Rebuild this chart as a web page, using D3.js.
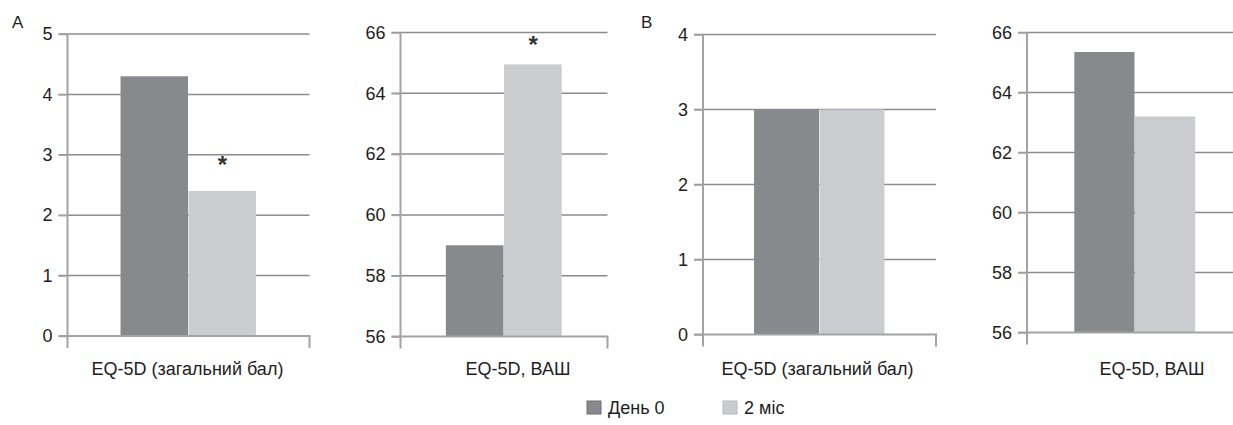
<!DOCTYPE html>
<html>
<head>
<meta charset="utf-8">
<script src="https://cdn.jsdelivr.net/npm/d3@7/dist/d3.min.js"></script>
<style>
  html, body { margin: 0; padding: 0; background: #fff; }
  svg { display: block; font-family: "Liberation Sans", Arial, sans-serif; }
</style>
</head>
<body>
<svg id="chart" width="1233" height="425"></svg>
<script>
// ---- data ----
const categories = ["EQ-5D (загальний бал)", "EQ-5D, ВАШ", "EQ-5D (загальний бал)", "EQ-5D, ВАШ"];
const seriesNames = ["День 0", "2 міс"];
const day0Values = [4.3, 59.0, 3.0, 65.35];
const month2Values = [2.4, 64.95, 3.0, 63.2];
const yDomains = [[0, 5], [56, 66], [0, 4], [56, 66]];
const yTickValues = [[0, 1, 2, 3, 4, 5], [56, 58, 60, 62, 64, 66], [0, 1, 2, 3, 4], [56, 58, 60, 62, 64, 66]];
const significantMonth2 = [true, true, false, false]; // star over "2 міс" bar
const panelLetters = ["A", "", "B", ""];

// ---- layout (positions/styles) ----
const layout = [
  { left: 67.5, right: 309.5, top: 34, bottom: 336, labelX: 187.5, letterX: 12 },
  { left: 400.5, right: 607.5, top: 32.5, bottom: 336.5, labelX: 518 },
  { left: 703, right: 936, top: 34.5, bottom: 334.5, labelX: 817.5, letterX: 641 },
  { left: 1027, right: 1243, top: 32.5, bottom: 332.5, labelX: 1152 }
];
const colors = ["#88898d", "#cbcccf"];
const gridColor = "#8c8c8c";
const axisColor = "#a3a3a3";
const textColor = "#1e1e1e";
const fontSize = 18;

const svg = d3.select("#chart");

categories.forEach((cat, i) => {
  const L = layout[i];
  const g = svg.append("g");

  const y = d3.scaleLinear().domain(yDomains[i]).range([L.bottom, L.top]);
  const x0 = d3.scaleBand().domain([cat]).range([L.left, L.right]).paddingInner(0).paddingOuter(0.39);
  const x1 = d3.scaleBand().domain(seriesNames).range([0, x0.bandwidth()]).padding(0);

  // gridlines (except baseline)
  g.append("g").selectAll("line")
    .data(yTickValues[i].slice(1))
    .join("line")
    .attr("x1", L.left - 9).attr("x2", L.right)
    .attr("y1", d => y(d)).attr("y2", d => y(d))
    .attr("stroke", gridColor).attr("stroke-width", 1.5);

  // bars
  const vals = [day0Values[i], month2Values[i]];
  g.append("g").selectAll("rect")
    .data(seriesNames.map((s, k) => ({ s, v: vals[k], k })))
    .join("rect")
    .attr("x", d => x0(cat) + x1(d.s))
    .attr("width", x1.bandwidth() - 0.5)
    .attr("y", d => y(d.v))
    .attr("height", d => y(yDomains[i][0]) - y(d.v))
    .attr("fill", d => colors[d.k]);

  // y axis
  const yAxis = d3.axisLeft(y).tickValues(yTickValues[i]).tickSize(9).tickPadding(6).tickFormat(d3.format("d"));
  const ya = g.append("g").attr("transform", `translate(${L.left},0)`).call(yAxis);
  ya.select(".domain").remove();
  ya.selectAll(".tick line").attr("stroke", axisColor).attr("stroke-width", 1.5);
  ya.selectAll(".tick text").attr("fill", textColor).style("font-size", fontSize + "px")
    .attr("font-family", "Liberation Sans, Arial, sans-serif");
  // vertical axis line extending below baseline
  g.append("line")
    .attr("x1", L.left).attr("x2", L.left)
    .attr("y1", L.top).attr("y2", L.bottom + 12)
    .attr("stroke", axisColor).attr("stroke-width", 2);

  // x axis baseline with outer tick at right
  const xAxis = d3.axisBottom(x0).tickSize(0).tickSizeOuter(12).tickFormat("");
  const xa = g.append("g").attr("transform", `translate(0,${L.bottom})`).call(xAxis);
  xa.select(".domain").attr("stroke", axisColor).attr("stroke-width", 2)
    .attr("d", `M${L.left - 9},0H${L.right}V12`);
  xa.selectAll(".tick").remove();

  // category label
  g.append("text")
    .attr("x", L.labelX)
    .attr("y", 375)
    .attr("text-anchor", "middle")
    .attr("fill", textColor)
    .style("font-size", fontSize + "px")
    .text(cat);

  // significance star over second bar
  if (significantMonth2[i]) {
    g.append("text")
      .attr("x", x0(cat) + x1(seriesNames[1]) + x1.bandwidth() / 2)
      .attr("y", y(month2Values[i]) - (i === 0 ? 18 : 11))
      .attr("text-anchor", "middle")
      .attr("fill", "#333")
      .style("font-size", "24px")
      .style("font-weight", "bold")
      .text("*");
  }

  // panel letter
  if (panelLetters[i]) {
    svg.append("text")
      .attr("x", L.letterX)
      .attr("y", 28)
      .attr("fill", textColor)
      .style("font-size", "17px")
      .text(panelLetters[i]);
  }
});

// legend
const legend = svg.append("g");
const legendX = [587, 723];
seriesNames.forEach((s, k) => {
  legend.append("rect")
    .attr("x", legendX[k]).attr("y", 401)
    .attr("width", 14).attr("height", 13)
    .attr("fill", colors[k])
    .attr("stroke", k === 0 ? "#6e6f72" : "#b8b9bc").attr("stroke-width", 1);
  legend.append("text")
    .attr("x", legendX[k] + 21).attr("y", 414)
    .attr("fill", textColor)
    .style("font-size", fontSize + "px")
    .text(s);
});
</script>
</body>
</html>
